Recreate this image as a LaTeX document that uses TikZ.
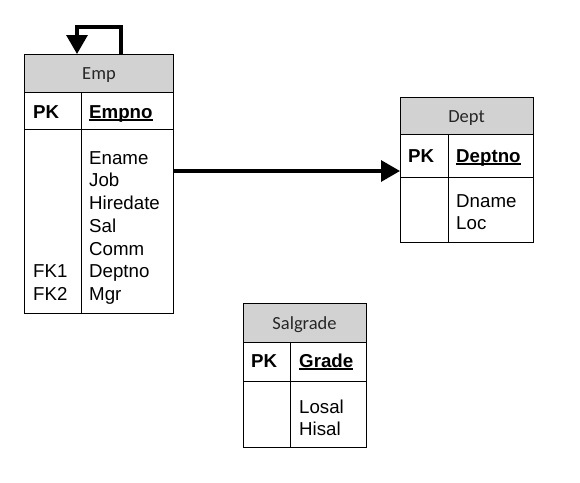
\documentclass[tikz,border=0pt]{standalone}
\usepackage{fontspec}
\setmainfont{Liberation Sans}
\newfontfamily\hdrfont{Carlito}
\usetikzlibrary{arrows.meta}
\definecolor{hdrgray}{RGB}{210,210,210}
\newcommand{\keyul}[1]{\setbox0\hbox{#1}\rlap{\raisebox{-3.2pt}{\rule{\wd0}{1.8pt}}}\box0}
\tikzset{
  tbl/.style={draw=black, line width=0.9pt, anchor=north west, inner sep=0pt},
  hdr/.style={draw=black, line width=0.9pt, fill=hdrgray, anchor=north west, inner sep=0pt},
  title/.style={anchor=base, inner sep=0pt, font=\hdrfont\fontsize{18.5}{21}\selectfont, text=black!85},
  cell/.style={anchor=base west, inner sep=0pt, font=\fontsize{18.7}{22}\selectfont},
  pk/.style={cell, font=\fontsize{18.7}{22}\selectfont\bfseries},
  conn/.style={line width=3.2pt, -{Triangle[length=19pt,width=21pt]}}
}
\begin{document}
\begin{tikzpicture}[x=1pt,y=-1pt]
\useasboundingbox (0,0) rectangle (580,482);
% ---------------- Emp
\node[tbl, minimum width=149pt, minimum height=259pt] (emp) at (24,54) {};
\node[hdr, minimum width=149pt, minimum height=38pt] (emph) at (24,54) {};
\node[title] (empt) at (99,79) {Emp};
\draw[line width=0.9pt] (24,129) -- (173,129);
\draw[line width=0.9pt] (81,92) -- (81,313);
\node[pk] (emppk) at (33,118) {PK};
\node[pk] (empk) at (89,118) {\keyul{Empno}};
\foreach \t [count=\i] in {Ename,Job,Hiredate,Sal,Comm,Deptno,Mgr}
  \node[cell] (ea\i) at (89,{164+(\i-1)*22.75}) {\t};
\node[cell] (efk1) at (33,{164+5*22.75}) {FK1};
\node[cell] (efk2) at (33,{164+6*22.75}) {FK2};
% ---------------- Dept
\node[tbl, minimum width=133pt, minimum height=145pt] (dept) at (400,97) {};
\node[hdr, minimum width=133pt, minimum height=37pt] (depth) at (400,97) {};
\node[title] (deptt) at (466.5,122) {Dept};
\draw[line width=0.9pt] (400,177) -- (533,177);
\draw[line width=0.9pt] (448,134) -- (448,242);
\node[pk] (deptpk) at (408,162) {PK};
\node[pk] (deptk) at (456,162) {\keyul{Deptno}};
\node[cell] (da1) at (456,207) {Dname};
\node[cell] (da2) at (456,{207+22.75}) {Loc};
% ---------------- Salgrade
\node[tbl, minimum width=123pt, minimum height=144pt] (sal) at (243,303) {};
\node[hdr, minimum width=123pt, minimum height=39pt] (salh) at (243,303) {};
\node[title] (salt) at (304.5,329) {Salgrade};
\draw[line width=0.9pt] (243,381) -- (366,381);
\draw[line width=0.9pt] (290,342) -- (290,447);
\node[pk] (salpk) at (251,367) {PK};
\node[pk] (salk) at (299,367) {\keyul{Grade}};
\node[cell] (sa1) at (299,413) {Losal};
\node[cell] (sa2) at (299,{413+22.75}) {Hisal};
% ---------------- connectors
\draw[conn] (emp.east |- 0,171) -- (dept.west |- 0,171);
\draw[conn] ([xshift=97pt]emp.north west) |- ([xshift=53pt,yshift=27pt]emp.north west) -- ([xshift=53pt]emp.north west);
\end{tikzpicture}
\end{document}
